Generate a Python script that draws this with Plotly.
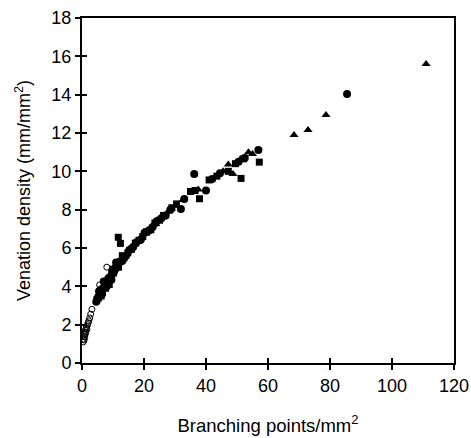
import plotly.graph_objects as go

# Open circles
open_x = [0.4, 0.5, 0.6, 0.7, 0.8, 0.9, 1.0, 1.1, 1.2, 1.3, 1.5, 1.6, 1.8, 2.0, 2.2, 2.5, 2.8, 3.2, 5.7, 8.0]
open_y = [1.1, 1.25, 1.4, 1.2, 1.5, 1.35, 1.6, 1.7, 1.55, 1.8, 1.9, 1.75, 2.0, 2.1, 2.2, 2.35, 2.55, 2.8, 4.07, 5.0]

# Filled circles
circ_x = [4.6, 5.2, 5.8, 6.3, 6.9, 7.4, 8.1, 8.7, 9.3, 9.8, 10.4, 11.2, 12.0, 13.1, 14.2, 15.3, 16.5, 17.6,
          19.0, 20.2, 21.5, 22.8, 24.1, 25.6, 27.0, 28.5, 31.9, 33.0, 36.2, 40.0, 42.0, 44.5, 50.5, 52.5, 56.9, 85.5,
          5.5, 6.5, 7.0, 8.0, 9.5, 11.0]
circ_y = [3.2, 3.45, 3.55, 3.85, 3.9, 4.2, 4.2, 4.45, 4.5, 4.8, 4.8, 5.05, 5.25, 5.35, 5.6, 5.9, 6.05, 6.3,
          6.45, 6.8, 6.9, 7.1, 7.4, 7.55, 7.7, 8.0, 8.03, 8.55, 9.86, 9.0, 9.6, 9.9, 10.5, 10.7, 11.11, 14.03,
          3.75, 3.6, 4.25, 4.0, 4.35, 5.25]

# Squares
sq_x = [4.8, 5.4, 6.0, 6.6, 7.2, 7.8, 8.4, 9.0, 9.6, 10.2, 10.8, 11.7, 12.4, 12.5, 13.6, 14.8, 16.0, 17.2, 18.4,
        19.6, 20.8, 22.2, 23.5, 25.0, 26.3, 29.0, 30.5, 35.0, 36.5, 37.9, 41.0, 43.5, 47.2, 49.5, 51.3, 52.0, 57.2,
        6.2, 7.6, 8.8, 10.0, 11.8, 13.0]
sq_y = [3.3, 3.4, 3.75, 3.7, 4.05, 4.1, 4.35, 4.4, 4.65, 4.7, 4.95, 6.56, 6.24, 5.3, 5.5, 5.75, 5.95, 6.25, 6.4,
        6.6, 6.85, 6.95, 7.3, 7.45, 7.7, 8.1, 8.3, 8.95, 9.0, 8.57, 9.55, 9.75, 10.0, 10.4, 9.63, 10.65, 10.48,
        3.5, 3.9, 4.1, 4.9, 5.0, 5.6]

# Triangles
tri_x = [5.0, 5.6, 6.2, 6.8, 7.6, 8.3, 9.0, 9.9, 10.7, 11.5, 12.8, 14.0, 15.5, 17.0, 18.8, 20.5, 22.0, 23.8,
         26.0, 27.8, 30.0, 32.5, 37.5, 45.5, 47.2, 48.7, 51.0, 53.7, 55.0, 68.4, 72.9, 78.7, 111.0]
tri_y = [3.4, 3.6, 3.7, 3.95, 4.15, 4.3, 4.55, 4.7, 4.9, 5.15, 5.4, 5.65, 5.85, 6.2, 6.5, 6.75, 7.05, 7.25,
         7.6, 7.9, 8.2, 8.5, 9.05, 10.0, 10.36, 9.86, 10.6, 11.0, 10.9, 11.9, 12.15, 12.94, 15.6]

x_ticks = [0, 20, 40, 60, 80, 100, 120]
y_ticks = [0, 2, 4, 6, 8, 10, 12, 14, 16, 18]

FONT = "Liberation Sans, Arial, sans-serif"

fig = go.Figure()
fig.add_trace(go.Scatter(x=open_x, y=open_y, mode="markers",
                         marker=dict(symbol="circle-open", size=6, color="black", line=dict(width=1))))
fig.add_trace(go.Scatter(x=circ_x, y=circ_y, mode="markers",
                         marker=dict(symbol="circle", size=8, color="black")))
fig.add_trace(go.Scatter(x=sq_x, y=sq_y, mode="markers",
                         marker=dict(symbol="square", size=7, color="black")))
fig.add_trace(go.Scatter(x=tri_x, y=tri_y, mode="markers",
                         marker=dict(symbol="triangle-up", size=8, color="black")))
# invisible trace to carry the overlay axes (inside tick marks)
fig.add_trace(go.Scatter(x=[None], y=[None], xaxis="x2", yaxis="y2", showlegend=False, hoverinfo="skip"))

axis_common = dict(showgrid=False, zeroline=False, showline=True, linecolor="black", linewidth=2,
                   mirror=True, ticks="outside", ticklen=5, tickwidth=2, tickcolor="black", automargin=False,
                   tickfont=dict(family=FONT, size=18, color="black"))

fig.update_layout(
    width=471, height=438,
    margin=dict(l=82, r=17, t=18, b=75),
    paper_bgcolor="white", plot_bgcolor="white",
    showlegend=False,
    font=dict(family=FONT, color="black"),
    xaxis=dict(range=[0, 120], tickvals=x_ticks, ticktext=[str(v) for v in x_ticks],
               title=dict(text="Branching points/mm<sup>2</sup>", font=dict(family=FONT, size=18.5), standoff=24),
               **axis_common),
    yaxis=dict(range=[0, 18], tickvals=y_ticks, ticktext=[str(v) for v in y_ticks],
               title=dict(text="Venation density (mm/mm<sup>2</sup>)", font=dict(family=FONT, size=18), standoff=16),
               **axis_common),
    xaxis2=dict(range=[0, 120], overlaying="x", tickvals=x_ticks, showticklabels=False, ticks="inside",
                ticklen=5, tickwidth=2, tickcolor="black", showgrid=False, zeroline=False, showline=False),
    yaxis2=dict(range=[0, 18], overlaying="y", tickvals=y_ticks, showticklabels=False, ticks="inside",
                ticklen=5, tickwidth=2, tickcolor="black", showgrid=False, zeroline=False, showline=False),
)

fig.write_html("out.html", config={"displayModeBar": False},
               post_script="document.body.style.margin='0px';document.body.style.padding='0px';")
